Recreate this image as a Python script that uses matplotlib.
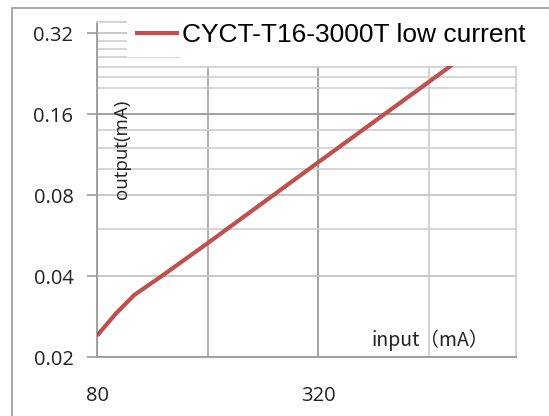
import matplotlib
matplotlib.use("Agg")
import matplotlib.pyplot as plt
from matplotlib.patches import Rectangle
from matplotlib.ticker import FixedLocator, NullFormatter

# values
input_ma = [80, 90, 101, 120, 160, 320, 640, 1000]
output_ma = [0.024, 0.029, 0.034, 0.040, 0.053, 0.106, 0.211, 0.33]
series_name = "CYCT-T16-3000T low current"

x_ticks = [80, 160, 320, 640]
x_labels = ["80", "", "320", ""]
y_ticks = [0.02, 0.04, 0.08, 0.16, 0.32]
y_labels = ["0.02", "0.04", "0.08", "0.16", "0.32"]
y_minor = [0.06, 0.1, 0.12, 0.14, 0.2, 0.22, 0.24, 0.26, 0.28, 0.3]

fig = plt.figure(figsize=(5.49, 4.16), dpi=100)
ax = fig.add_axes([0.1767, 0.1418, 0.7633, 0.8052])

# outer chart frame
fig.patches.append(Rectangle((12 / 549, -0.1), 1.2, 1 - 8 / 416 + 0.1, transform=fig.transFigure,
                             facecolor="none", edgecolor="#aaaaaa", lw=1.5, zorder=0))

ax.plot(input_ma, output_ma, color="#c0504d", lw=3, label=series_name, zorder=3,
        solid_capstyle="butt")

ax.set_xscale("log", base=2)
ax.set_yscale("log", base=2)
ax.set_xlim(80, 1103)
ax.set_ylim(0.02, 0.3516)

ax.xaxis.set_major_locator(FixedLocator(x_ticks))
ax.set_xticklabels(x_labels)
ax.xaxis.set_minor_locator(FixedLocator([]))
ax.yaxis.set_major_locator(FixedLocator(y_ticks))
ax.set_yticklabels(y_labels)
ax.yaxis.set_minor_locator(FixedLocator(y_minor))
ax.yaxis.set_minor_formatter(NullFormatter())

for lab in ax.get_xticklabels() + ax.get_yticklabels():
    lab.set_fontfamily("Open Sans")
    lab.set_fontsize(14.5)
    lab.set_color("#222222")

ax.tick_params(axis="x", length=0, pad=21)
ax.tick_params(axis="y", which="major", length=7, width=1.2, color="#999999", pad=10)
ax.tick_params(axis="y", which="minor", length=0)

ax.grid(True, which="major", axis="both", color="#c4c4c4", lw=1.3)
ax.grid(True, which="minor", axis="y", color="#d2d2d2", lw=1.3)
ax.set_axisbelow(True)
gx = ax.xaxis.get_gridlines()
gx[1].set_color("#a8a8a8")
gx[2].set_color("#9a9a9a")
gx[3].set_color("#d0d0d0")
ax.yaxis.get_gridlines()[3].set_color("#9a9a9a")

for side in ["top", "right"]:
    ax.spines[side].set_color("#d0d0d0")
    ax.spines[side].set_linewidth(1.3)
for side in ["left", "bottom"]:
    ax.spines[side].set_color("#9a9a9a")
    ax.spines[side].set_linewidth(1.3)

ax.text(0.06, 0.62, "output(mA)", transform=ax.transAxes, rotation=90,
        ha="center", va="center", fontsize=13.5, family="Open Sans", color="#222222")
ax.text(0.795, 0.05, "input（mA）", transform=ax.transAxes, ha="center", va="center",
        fontsize=14, family=["Noto Sans CJK SC", "DejaVu Sans"], color="#222222")

# white legend block over the top of the plot
fig.patches.append(Rectangle((180 / 549, 1 - 66 / 416), 365 / 549, 57 / 416, transform=fig.transFigure,
                             facecolor="white", edgecolor="none", zorder=4))
fig.patches.append(Rectangle((127 / 549, 1 - 57 / 416), 60 / 549, 48 / 416, transform=fig.transFigure,
                             facecolor="white", edgecolor="none", zorder=4))

leg = fig.legend(loc="center left", bbox_to_anchor=(124 / 549, 1 - 35 / 416), frameon=False,
                 prop={"family": "Liberation Sans", "size": 19}, handlelength=1.7,
                 handletextpad=0.1, borderaxespad=0)
leg.set_zorder(5)

fig.savefig("out.png", dpi=100)
